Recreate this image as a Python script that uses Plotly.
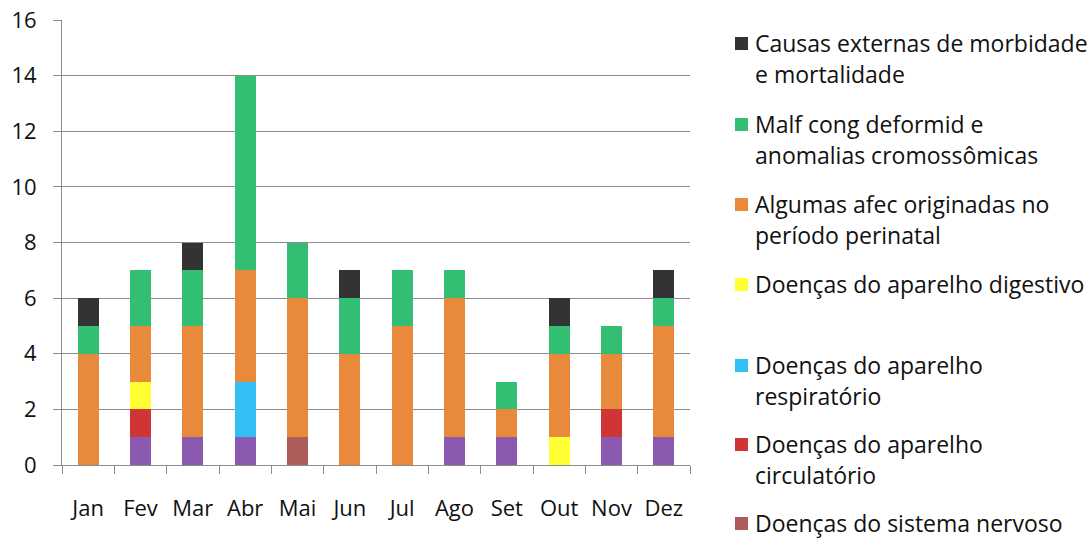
import plotly.graph_objects as go

# ----- Data ----- #
months = ["Jan", "Fev", "Mar", "Abr", "Mai", "Jun", "Jul", "Ago", "Set", "Out", "Nov", "Dez"]

infecciosas = [0, 1, 1, 1, 0, 0, 0, 1, 1, 0, 1, 1]
nervoso = [0, 0, 0, 0, 1, 0, 0, 0, 0, 0, 0, 0]
circulatorio = [0, 1, 0, 0, 0, 0, 0, 0, 0, 0, 1, 0]
respiratorio = [0, 0, 0, 2, 0, 0, 0, 0, 0, 0, 0, 0]
digestivo = [0, 1, 0, 0, 0, 0, 0, 0, 0, 1, 0, 0]
perinatal = [4, 2, 4, 4, 5, 4, 5, 5, 1, 3, 2, 4]
malformacoes = [1, 2, 2, 7, 2, 2, 2, 1, 1, 1, 1, 1]
externas = [1, 0, 1, 0, 0, 1, 0, 0, 0, 1, 0, 1]

y_ticks = [0, 2, 4, 6, 8, 10, 12, 14, 16]

# (name, values, colour, legend lines) bottom to top
series = [
    ("Algumas doenças infecciosas e parasitárias", infecciosas, "#8C59B0", None),
    ("Doenças do sistema nervoso", nervoso, "#AC5C5A", ["Doenças do sistema nervoso"]),
    ("Doenças do aparelho circulatório", circulatorio, "#CF3535", ["Doenças do aparelho", "circulatório"]),
    ("Doenças do aparelho respiratório", respiratorio, "#33BFF3", ["Doenças do aparelho", "respiratório"]),
    ("Doenças do aparelho digestivo", digestivo, "#FFFF33", ["Doenças do aparelho digestivo"]),
    ("Algumas afec originadas no período perinatal", perinatal, "#E8893C", ["Algumas afec originadas no", "período perinatal"]),
    ("Malf cong deformid e anomalias cromossômicas", malformacoes, "#33BF73", ["Malf cong deformid e", "anomalias cromossômicas"]),
    ("Causas externas de morbidade e mortalidade", externas, "#333333", ["Causas externas de morbidade", "e mortalidade"]),
]

FONT = "Open Sans"
GRID = "#8C8C8C"

# ----- Plotting ----- #
fig = go.Figure()
for name, vals, color, _ in series:
    fig.add_trace(
        go.Bar(
            x=months,
            y=vals,
            name=name,
            marker_color=color,
            marker_line_width=0,
            showlegend=False,
        )
    )

# Manual legend (Excel style, entries top to bottom)
# pixel -> paper conversion for the plot area
L, T, W, H = 62, 20, 628, 445


def px_x(px):
    return (px - L) / W


def px_y(py):
    return (T + H - py) / H


legend_rows = [43, 124, 204, 284, 365, 444, 523]
legend_items = [s for s in reversed(series) if s[3]]
for row, (name, vals, color, lines) in zip(legend_rows, legend_items):
    fig.add_shape(
        type="rect",
        xref="paper",
        yref="paper",
        x0=px_x(735),
        x1=px_x(748),
        y0=px_y(row - 6),
        y1=px_y(row + 7),
        fillcolor=color,
        line_width=0,
    )
    for i, line in enumerate(lines):
        fig.add_annotation(
            xref="paper",
            yref="paper",
            x=px_x(753),
            y=px_y(row + i * 31),
            text=line,
            showarrow=False,
            xanchor="left",
            yanchor="middle",
            font=dict(family=FONT, size=23, color="#111111"),
        )

# Formatting
fig.update_layout(
    barmode="stack",
    bargap=0.6,
    width=1091,
    height=538,
    margin=dict(l=L, r=1091 - L - W, t=T, b=538 - T - H),
    plot_bgcolor="white",
    paper_bgcolor="white",
    font=dict(family=FONT, size=22, color="#111111"),
)

fig.update_xaxes(
    type="category",
    automargin=False,
    showline=True,
    linecolor=GRID,
    linewidth=1,
    ticks="outside",
    tickson="boundaries",
    ticklen=8,
    tickcolor=GRID,
    ticklabelstandoff=24,
    showgrid=False,
)
fig.update_yaxes(
    range=[0, 16],
    tickvals=y_ticks,
    automargin=False,
    showline=True,
    linecolor=GRID,
    linewidth=1,
    ticks="outside",
    ticklen=8,
    tickcolor=GRID,
    ticklabelstandoff=12,
    showgrid=True,
    gridcolor=GRID,
    gridwidth=1,
    zeroline=False,
)

fig.write_html(
    "out.html",
    config={"displayModeBar": False},
    post_script="document.body.style.margin='0';",
)
